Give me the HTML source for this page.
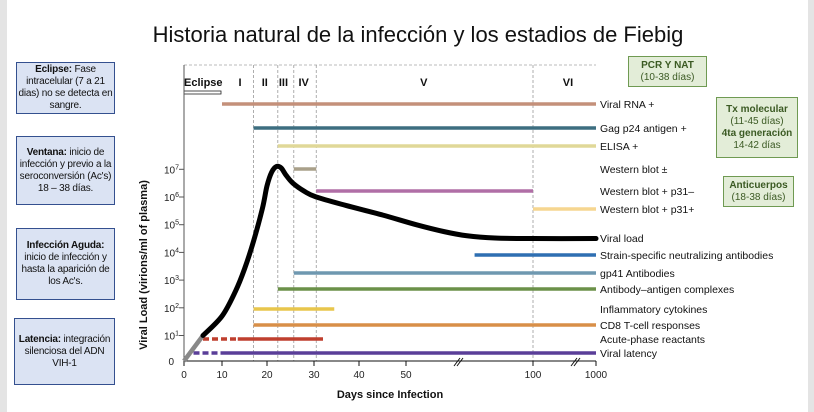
<!DOCTYPE html>
<html><head><meta charset="utf-8"><style>
body{margin:0;width:814px;height:412px;background:#fff;position:relative;overflow:hidden;font-family:"Liberation Sans",sans-serif}
.strip{position:absolute;top:0;height:412px;background:#e4e4e4}
.lb{position:absolute;background:#dbe3f3;border:1px solid #34508f;font-size:10px;line-height:12px;text-align:center;box-sizing:border-box;display:flex;align-items:center;justify-content:center;color:#111;letter-spacing:-0.2px}
.rb{position:absolute;background:#e3edd8;border:1px solid #6f9a52;font-size:10px;line-height:12px;text-align:center;box-sizing:border-box;color:#3b5a23;display:flex;align-items:center;justify-content:center}
</style></head><body>
<div class="strip" style="left:0;width:7px"></div>
<div class="strip" style="left:808px;width:6px"></div>
<div style="position:absolute;left:0;width:836px;top:22px;text-align:center;font-size:22px;color:#111">Historia natural de la infección y los estadios de Fiebig</div>
<div class="lb" style="left:16px;top:62px;width:99px;height:52px"><div><b>Eclipse:</b> Fase intracelular (7 a 21 dias) no se detecta en sangre.</div></div>
<div class="lb" style="left:16px;top:136px;width:99px;height:69px"><div><b>Ventana:</b> inicio de infección y previo a la seroconversión (Ac's) 18 – 38 días.</div></div>
<div class="lb" style="left:16px;top:228px;width:99px;height:72px"><div><b>Infección Aguda:</b> inicio de infección y hasta la aparición de los Ac's.</div></div>
<div class="lb" style="left:14px;top:318px;width:101px;height:67px"><div><b>Latencia:</b> integración silenciosa del ADN VIH-1</div></div>
<div class="rb" style="left:628px;top:56px;width:79px;height:31px"><div><b>PCR Y NAT</b><br>(10-38 días)</div></div>
<div class="rb" style="left:716px;top:97px;width:82px;height:61px"><div><b>Tx molecular</b><br>(11-45 días)<br><b>4ta generación</b><br>14-42 días</div></div>
<div class="rb" style="left:723px;top:176px;width:71px;height:31px"><div><b>Anticuerpos</b><br>(18-38 días)</div></div>
<svg id="chart" width="814" height="412" style="position:absolute;left:0;top:0" font-family="Liberation Sans, sans-serif"></svg>
<script>
const dayKnots=[0,10,20,30,40,50,100,1000];
const xTickLabels=["0","10","20","30","40","50","100","1000"];
const yTickExp=[1,2,3,4,5,6,7];
const stageNames=["I","II","III","IV","V","VI"];
const stageCenters=[14,19.5,23.5,27.8,57,600];
const stageBounds=[17,22.3,25.7,30.5,100];
const curveDays=[0,5,10,13,15,17,19,20,21,22,23,24,25.5,28,30.5,37,45,54,65,74,85,100,1000];
const curveLogs=[0,1,1.7,2.6,3.4,4.4,5.6,6.4,6.9,7.1,7.05,6.8,6.5,6.2,6.0,5.7,5.35,5.0,4.75,4.6,4.52,4.5,4.5];
const markerNames=["Viral RNA +","Gag p24 antigen +","ELISA +","Western blot ±","Western blot + p31–","Western blot + p31+","Viral load","Strain-specific neutralizing antibodies","gp41 Antibodies","Antibody–antigen complexes","Inflammatory cytokines","CD8 T-cell responses","Acute-phase reactants","Viral latency"];
const markerStart=[10,17,22.3,25.7,30.5,100,null,77,25.7,22.3,17,17,13.5,10];
const markerEnd=[1000,1000,1000,30.5,100,1000,null,1000,1000,1000,34.5,1000,32,1000];
const markerDashStart=[null,null,null,null,null,null,null,null,null,null,null,null,5,2.5];
const markerColors=["#c4907a","#3d6e80","#e0d898","#a9a08a","#b06ea6","#f6d690",null,"#2e6fb2","#6f98b0","#6b9149","#e8c64c","#d88f48","#bf3f2e","#5a3e98"];
const rowY=[104,128,146,169,191,209,238,255,273,289,309,325,339,353];
const pxKnots=[184,222,267,314,359,406,533,596];
function xs(d){for(let i=0;i<dayKnots.length-1;i++){if(d<=dayKnots[i+1]){const t=(d-dayKnots[i])/(dayKnots[i+1]-dayKnots[i]);return pxKnots[i]+t*(pxKnots[i+1]-pxKnots[i]);}}return 596;}
function ys(e){return e<=0?361:335.5-(e-1)*27.7;}
const svg=document.getElementById('chart');const NS='http://www.w3.org/2000/svg';
function mk(tag,a,parent){const el=document.createElementNS(NS,tag);for(const k in a)el.setAttribute(k,a[k]);(parent||svg).appendChild(el);return el;}
let e;
e=mk('line',{x1:184,y1:65,x2:596,y2:65,stroke:'#bbb','stroke-dasharray':'3,2'});

stageBounds.forEach(b=>{const l=mk('line',{x1:xs(b),y1:65,x2:xs(b),y2:361,stroke:'#999','stroke-dasharray':'3,2','stroke-width':0.8});
});
e=mk('text',{x:184,y:86,'font-size':11,'font-weight':'bold',fill:'#111'});e.textContent='Eclipse';

e=mk('rect',{x:184,y:91,width:37,height:3,fill:'#fff',stroke:'#222','stroke-width':0.8});

stageNames.forEach((s,i)=>{const t=mk('text',{x:xs(stageCenters[i]),y:86,'font-size':11,'font-weight':'bold','text-anchor':'middle',fill:'#111'});t.textContent=s;
});
e=mk('line',{x1:184,y1:65,x2:184,y2:362,stroke:'#555','stroke-width':1});

e=mk('line',{x1:184,y1:361,x2:596,y2:361,stroke:'#111','stroke-width':1});

yTickExp.forEach(v=>{const y=ys(v);mk('line',{x1:179,y1:y,x2:184,y2:y,stroke:'#555'});
const t=mk('text',{x:164,y:y+4,'font-size':10,fill:'#222'});t.innerHTML='10<tspan dy="-4" font-size="7">'+v+'</tspan>';
});
e=mk('text',{x:174,y:365,'font-size':10,'text-anchor':'end',fill:'#222'});e.textContent='0';

dayKnots.forEach((d,i)=>{const x=xs(d);mk('line',{x1:x,y1:361,x2:x,y2:366,stroke:'#111'});
const t=mk('text',{x:x,y:378,'font-size':10,'text-anchor':'middle',fill:'#222'});t.textContent=xTickLabels[i];
});
[458,575].forEach(x=>{mk('line',{x1:x-4,y1:366,x2:x+2,y2:358,stroke:'#111'});mk('line',{x1:x-1,y1:366,x2:x+5,y2:358,stroke:'#111'});});
e=mk('text',{x:390,y:398,'font-size':11,'font-weight':'bold','text-anchor':'middle',fill:'#111'});e.textContent='Days since Infection';

e=mk('text',{x:0,y:0,'font-size':11,'font-weight':'bold','text-anchor':'middle',fill:'#111',transform:'translate(147,265) rotate(-90)'});e.textContent='Viral Load (virions/ml of plasma)';

markerNames.forEach((n,i)=>{const y=rowY[i];
if(markerColors[i]){
if(markerDashStart[i]!==null){const d=mk('line',{x1:xs(markerDashStart[i]),y1:y,x2:xs(markerStart[i]),y2:y,stroke:markerColors[i],'stroke-width':3.5,'stroke-dasharray':'6,3'});
}
const b=mk('line',{x1:xs(markerStart[i]),y1:y,x2:xs(markerEnd[i]),y2:y,stroke:markerColors[i],'stroke-width':3.5});
}
const t=mk('text',{x:600,y:y+4,'font-size':10.5,fill:'#111'});t.textContent=n;
});
let pts=curveDays.map((d,i)=>[xs(d),ys(curveLogs[i])]);
e=mk('line',{x1:pts[0][0],y1:pts[0][1],x2:pts[1][0],y2:pts[1][1],stroke:'#888','stroke-width':4.5});

let dstr='M'+pts[1][0]+','+pts[1][1];
for(let i=1;i<pts.length-1;i++){const p0=pts[Math.max(i-1,1)],p1=pts[i],p2=pts[i+1],p3=pts[Math.min(i+2,pts.length-1)];
dstr+=' C'+(p1[0]+(p2[0]-p0[0])/6)+','+(p1[1]+(p2[1]-p0[1])/6)+' '+(p2[0]-(p3[0]-p1[0])/6)+','+(p2[1]-(p3[1]-p1[1])/6)+' '+p2[0]+','+p2[1];}
e=mk('path',{d:dstr,fill:'none',stroke:'#000','stroke-width':5,'stroke-linecap':'round','stroke-linejoin':'round'});

</script>
</body></html>
